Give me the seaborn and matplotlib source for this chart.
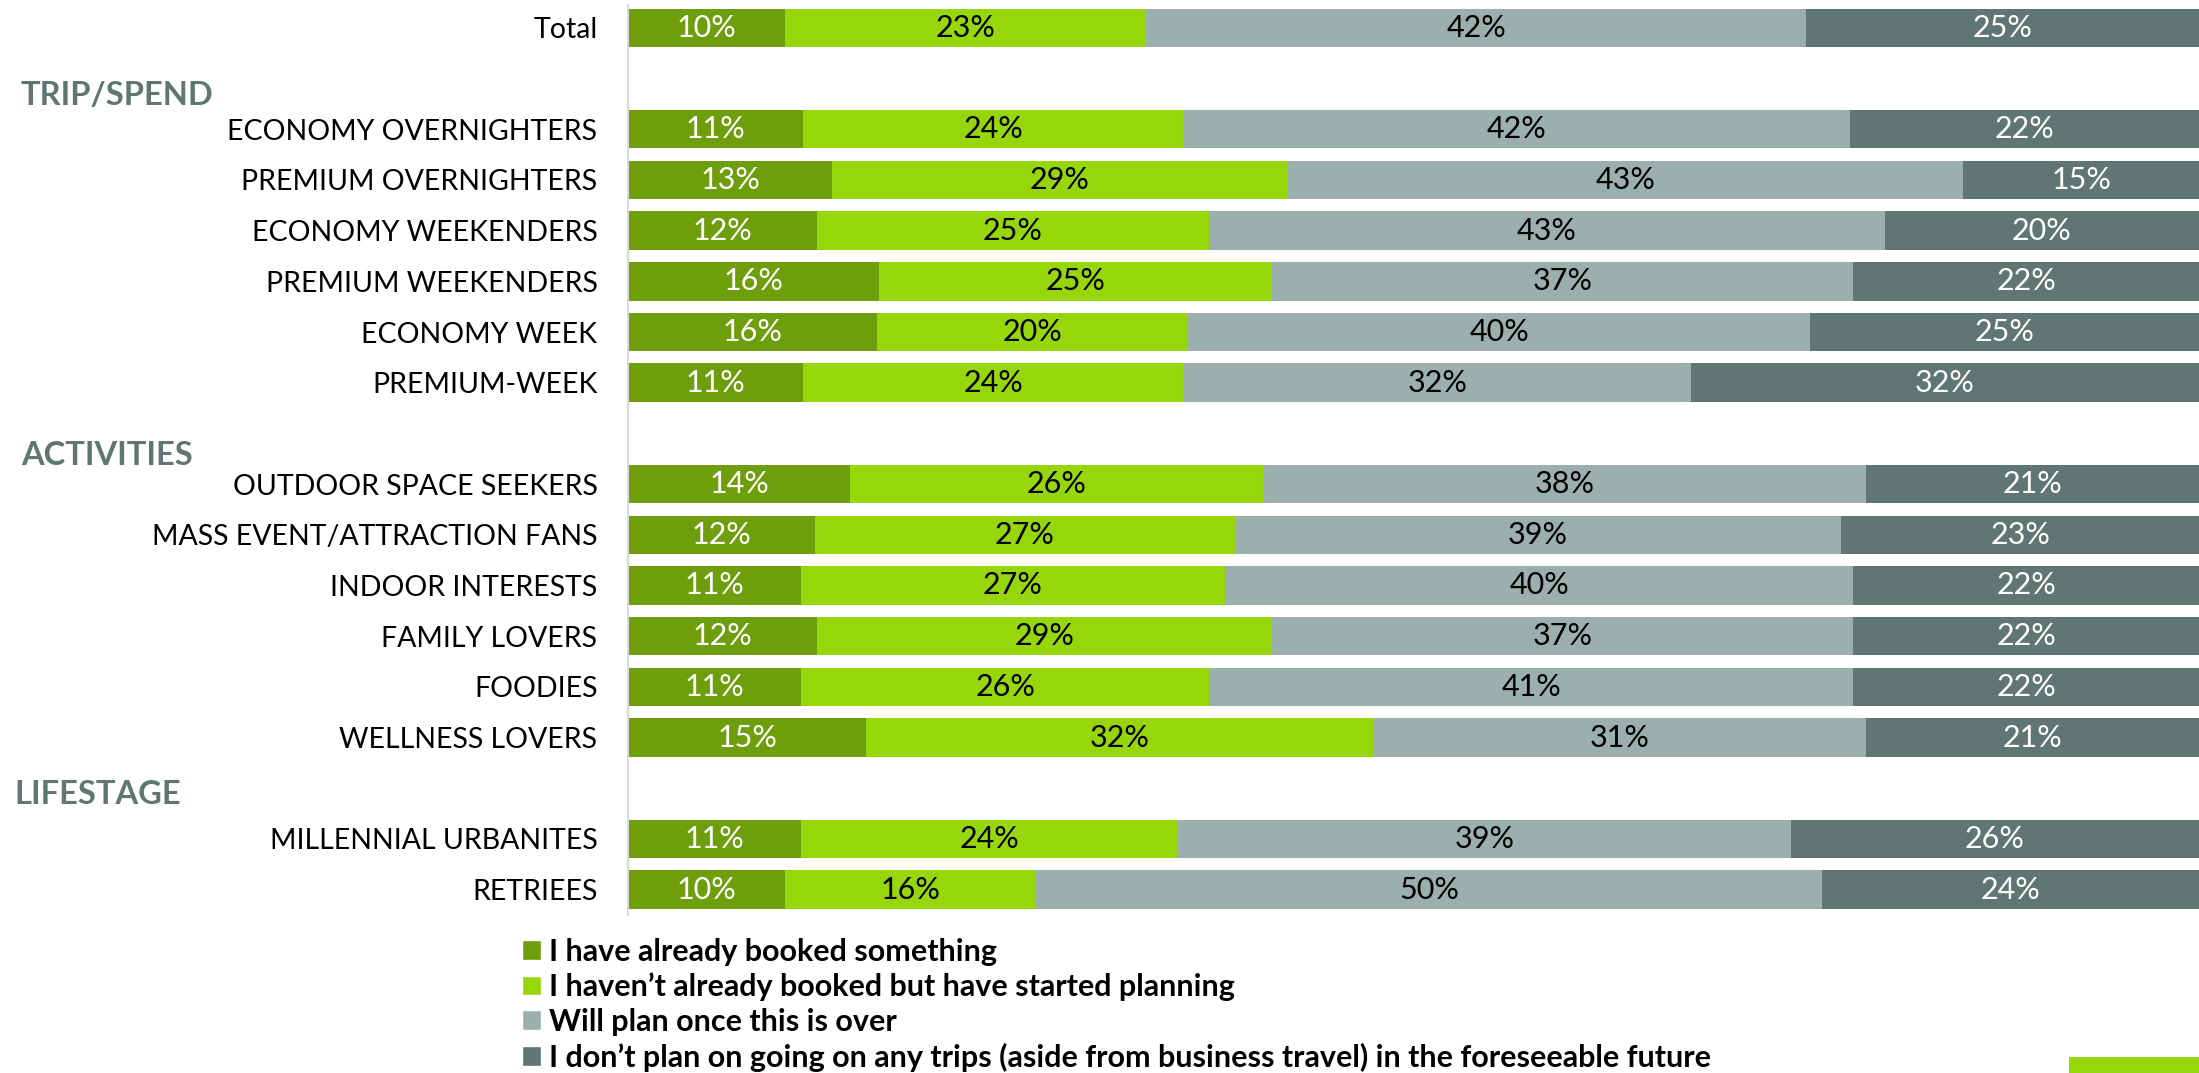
import matplotlib
matplotlib.use("Agg")
import matplotlib.pyplot as plt
import matplotlib.transforms as mtrans
from matplotlib.patches import Patch, Rectangle
from pandas import DataFrame
import seaborn as sns

# rows of the chart, grouped by section
total_row = ["Total"]
trip_spend = ["ECONOMY OVERNIGHTERS", "PREMIUM OVERNIGHTERS", "ECONOMY WEEKENDERS",
              "PREMIUM WEEKENDERS", "ECONOMY WEEK", "PREMIUM-WEEK"]
activities = ["OUTDOOR SPACE SEEKERS", "MASS EVENT/ATTRACTION FANS", "INDOOR INTERESTS",
              "FAMILY LOVERS", "FOODIES", "WELLNESS LOVERS"]
lifestage = ["MILLENNIAL URBANITES", "RETRIEES"]
section_titles = ["TRIP/SPEND", "ACTIVITIES", "LIFESTAGE"]

# values (%) in row order: total, trip/spend, activities, lifestage
booked = [10, 11, 13, 12, 16, 16, 11, 14, 12, 11, 12, 11, 15, 11, 10]
planning = [23, 24, 29, 25, 25, 20, 24, 26, 27, 27, 29, 26, 32, 24, 16]
later = [42, 42, 43, 43, 37, 40, 32, 38, 39, 40, 37, 41, 31, 39, 50]
no_trips = [25, 22, 15, 20, 22, 25, 32, 21, 23, 22, 22, 22, 21, 26, 24]

series_names = ["I have already booked something",
                "I haven\u2019t already booked but have started planning",
                "Will plan once this is over",
                "I don\u2019t plan on going on any trips (aside from business travel) in the foreseeable future"]
colors = ["#6e9e0b", "#96d60a", "#9bafad", "#5f7672"]
text_colors = ["white", "black", "black", "white"]
header_color = "#5f7672"

categories = total_row + trip_spend + activities + lifestage
order = total_row + [section_titles[0]] + trip_spend + [section_titles[1]] + activities \
    + [section_titles[2]] + lifestage

df = DataFrame({"category": categories, "booked": booked, "planning": planning,
                "later": later, "no_trips": no_trips})
cols = ["booked", "planning", "later", "no_trips"]
row_sum = df[cols].sum(axis=1)
# 100% stacked: each row scaled to its own total
for c in cols:
    df[c + "_share"] = df[c] / row_sum * 100
cum = 0
for c in cols:
    cum = cum + df[c + "_share"]
    df[c + "_cum"] = cum

sns.set_theme(style="white")
plt.rcParams["font.family"] = ["Lato", "DejaVu Sans"]
plt.rcParams["text.color"] = "black"
plt.rcParams["ytick.color"] = "black"

fig = plt.figure(figsize=(21.99, 10.73), dpi=100)
ax = fig.add_axes([0.2856, 0.1473, 0.7144, 0.848])

for i in reversed(range(4)):
    sns.barplot(df, x=cols[i] + "_cum", y="category", order=order, orient="h",
                color=colors[i], saturation=1, width=0.76, linewidth=0, ax=ax)

# percent labels in the middle of every segment
for r, cat in enumerate(categories):
    y = order.index(cat)
    left = 0
    for j, c in enumerate(cols):
        w = df.loc[r, c + "_share"]
        ax.text(left + w / 2, y, f"{df.loc[r, c]}%", ha="center", va="center",
                fontsize=22, color=text_colors[j])
        left += w

ax.set_xlim(0, 100)
ax.set_ylim(len(order) - 0.5, -0.45)
ax.set_yticks(range(len(order)))
ax.set_yticklabels(["" if c in section_titles else c for c in order], fontsize=20.5)
ax.tick_params(axis="y", length=0, pad=22)
ax.set_xticks([])
ax.set_xlabel("")
ax.set_ylabel("")
for s in ["top", "right", "bottom"]:
    ax.spines[s].set_visible(False)
ax.spines["left"].set_color("#d9d9d9")
ax.spines["left"].set_linewidth(1.5)

# section headers at the left edge of the figure
trans = mtrans.blended_transform_factory(fig.transFigure, ax.transData)
header_offsets = [(0.0095, 0.33), (0.0095, 0.44), (0.0064, 0.13)]
for title, (hx, dy) in zip(section_titles, header_offsets):
    ax.text(hx, order.index(title) + dy, title, transform=trans, ha="left", va="center",
            fontsize=23.5, fontweight="bold", color=header_color)

handles = [Patch(facecolor=c, label=n) for c, n in zip(colors, series_names)]
fig.legend(handles=handles, loc="upper left", bbox_to_anchor=(0.2375, 0.126),
           frameon=False, prop=dict(size=22, weight="bold"), handlelength=0.6,
           handleheight=0.6, handletextpad=0.28, labelspacing=0.22, borderpad=0,
           borderaxespad=0)

fig.add_artist(Rectangle((2069 / 2199, 0), 130 / 2199, 16 / 1073,
                         transform=fig.transFigure, color="#96d60a", lw=0))

fig.savefig("out.png", dpi=100)
plt.close()
